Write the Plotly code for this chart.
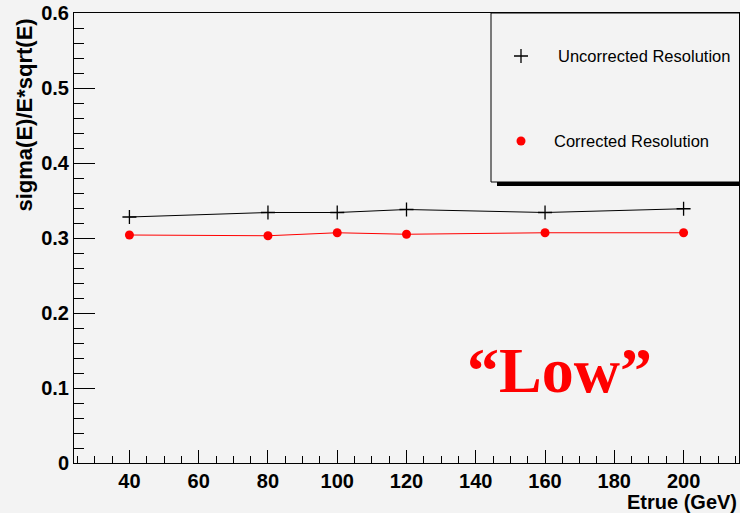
import plotly.graph_objects as go

# Beam energies (GeV) and the measured resolution sigma(E)/E*sqrt(E)
energy = [40, 80, 100, 120, 160, 200]
uncorrected = [0.328, 0.334, 0.334, 0.338, 0.334, 0.339]
corrected = [0.304, 0.303, 0.307, 0.305, 0.307, 0.307]

series_names = ["Uncorrected Resolution", "Corrected Resolution"]
x_range = [24, 216]
y_range = [0, 0.6]

W, H = 740, 513
ML, MR, MT, MB = 74, 1, 13, 50
PW, PH = W - ML - MR, H - MT - MB
BG = "#f3f3f3"
SANS = "Liberation Sans, Arial, sans-serif"


def px(x):
    return (x - ML) / PW


def py(y):
    return (H - MB - y) / PH


cross = dict(symbol="cross-thin", size=10, line=dict(color="black", width=1.3))
dot = dict(symbol="circle", size=9, color="red")

fig = go.Figure()

fig.add_trace(go.Scatter(
    x=energy, y=uncorrected, mode="lines+markers", name=series_names[0],
    line=dict(color="black", width=1), marker=cross, showlegend=False,
))
fig.add_trace(go.Scatter(
    x=energy, y=corrected, mode="lines+markers", name=series_names[1],
    line=dict(color="red", width=1), marker=dot, showlegend=False,
))

# legend samples on a pixel-scaled overlay axis
fig.add_trace(go.Scatter(
    x=[521], y=[56], mode="markers", xaxis="x2", yaxis="y2", showlegend=False,
    marker=cross, hoverinfo="skip",
))
fig.add_trace(go.Scatter(
    x=[521], y=[141], mode="markers", xaxis="x2", yaxis="y2", showlegend=False,
    marker=dot, hoverinfo="skip",
))

axis_common = dict(
    showline=True, linecolor="black", linewidth=1, mirror=True,
    ticks="inside", tickcolor="black", tickwidth=1,
    showgrid=False, zeroline=False,
    tickfont=dict(family=SANS, size=20, color="black", weight="bold"),
)

fig.update_layout(
    width=W, height=H,
    margin=dict(l=ML, r=MR, t=MT, b=MB),
    paper_bgcolor=BG, plot_bgcolor=BG,
    xaxis=dict(
        range=x_range, tickmode="linear", tick0=0, dtick=20, ticklen=13,
        minor=dict(ticks="inside", tick0=0, dtick=5, ticklen=7, tickcolor="black"),
        **axis_common,
    ),
    yaxis=dict(
        range=y_range, tickmode="linear", tick0=0, dtick=0.1, ticklen=21,
        minor=dict(ticks="inside", tick0=0, dtick=0.02, ticklen=10, tickcolor="black"),
        **axis_common,
    ),
    xaxis2=dict(overlaying="x", range=[ML, W - MR], visible=False),
    yaxis2=dict(overlaying="y", range=[H - MB, MT], visible=False),
    showlegend=False,
)

# legend frame with its drop shadow
fig.add_shape(type="rect", xref="paper", yref="paper", layer="below",
              x0=px(497), x1=px(780), y0=py(186), y1=py(182),
              fillcolor="black", line=dict(width=0))
fig.add_shape(type="rect", xref="paper", yref="paper", layer="below",
              x0=px(491), x1=px(780), y0=py(182), y1=py(13),
              fillcolor=BG, line=dict(color="black", width=1))

annotations = [
    dict(text="<b>sigma(E)/E*sqrt(E)</b>", x=px(24), y=py(17), textangle=-90,
         xanchor="center", yanchor="top",
         font=dict(family=SANS, size=22, color="black")),
    dict(text="<b>Etrue (GeV)</b>", x=px(739), y=py(502),
         xanchor="right", yanchor="middle",
         font=dict(family=SANS, size=20, color="black")),
    dict(text=series_names[0], x=px(556), y=py(56), xanchor="left", yanchor="middle",
         font=dict(family=SANS, size=16.5, color="black")),
    dict(text=series_names[1], x=px(552), y=py(141), xanchor="left", yanchor="middle",
         font=dict(family=SANS, size=16.5, color="black")),
    dict(text="<b>\u201cLow\u201d</b>", x=px(559), y=py(370), xanchor="center", yanchor="middle",
         font=dict(family="Liberation Serif, Times New Roman, serif", size=64, color="red")),
]
for a in annotations:
    fig.add_annotation(xref="paper", yref="paper", showarrow=False, **a)

fig.write_html("out.html")
